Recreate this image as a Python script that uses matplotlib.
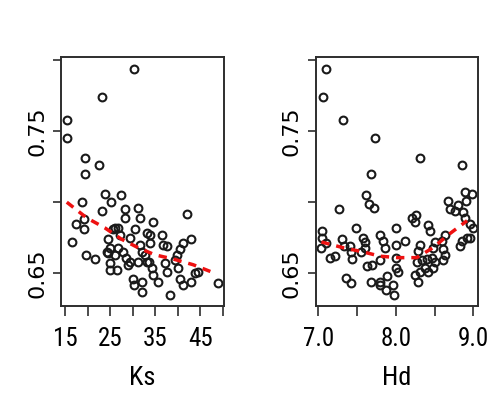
"""
Two-panel scatter: response vs Ks and vs Hd, each with a dashed red
smooth trend line. Saved as out.png (494x412 px).
"""

import matplotlib
matplotlib.use("Agg")
import matplotlib.pyplot as plt
from matplotlib import font_manager

# === DATA ================================================================== #

ks_x = [30.3, 23.2, 15.5, 15.4, 19.4, 22.5, 19.4, 18.7, 23.8, 25.3,
        27.4, 23.3, 17.4, 19.3, 19.3, 16.5, 19.6, 21.7, 28.3, 28.3,
        31.2, 31.6, 26.1, 27.2, 24.6, 29.4, 30.5, 25.0, 24.6, 26.8,
        26.1, 27.9, 28.6, 29.4, 25.0, 25.0, 26.6, 31.2, 30.1, 30.3,
        32.0, 32.0, 31.6, 34.5, 42.1, 33.8, 33.8, 36.4, 36.7, 37.5,
        43.0, 41.2, 40.4, 39.7, 39.3, 32.0, 32.7, 33.1, 34.2, 37.1,
        37.5, 34.5, 35.6, 40.1, 40.4, 41.2, 43.0, 43.8, 44.5, 38.2,
        48.9, 24.2, 25.7, 29.0, 33.1, 33.5, 26.8]
ks_y = [0.794, 0.774, 0.758, 0.745, 0.731, 0.726, 0.720, 0.700, 0.706, 0.700,
        0.705, 0.694, 0.685, 0.688, 0.681, 0.672, 0.663, 0.660, 0.695, 0.689,
        0.696, 0.689, 0.682, 0.677, 0.674, 0.675, 0.681, 0.668, 0.664, 0.668,
        0.663, 0.665, 0.661, 0.658, 0.657, 0.652, 0.652, 0.658, 0.646, 0.642,
        0.644, 0.637, 0.670, 0.686, 0.692, 0.677, 0.671, 0.677, 0.670, 0.669,
        0.674, 0.671, 0.667, 0.663, 0.659, 0.665, 0.663, 0.658, 0.654, 0.657,
        0.651, 0.649, 0.644, 0.654, 0.646, 0.642, 0.644, 0.650, 0.651, 0.635,
        0.643, 0.665, 0.681, 0.656, 0.678, 0.658, 0.682]

ks_fit_x = [15.4, 19.8, 23.8, 27.5, 31.2, 34.9, 39.0, 43.4, 48.2]
ks_fit_y = [0.700, 0.689, 0.682, 0.674, 0.668, 0.663, 0.660, 0.656, 0.650]

hd_x = [7.095, 7.061, 7.319, 7.732, 8.308, 8.850, 7.684, 7.619, 7.654, 7.715,
        7.267, 7.490, 7.052, 7.052, 7.039, 7.103, 7.310, 7.330, 7.405, 7.426,
        7.439, 7.155, 7.210, 7.577, 7.598, 7.598, 7.555, 7.792, 7.835, 7.857,
        7.792, 7.628, 7.697, 7.361, 7.426, 7.684, 7.792, 7.792, 7.886, 7.964,
        7.973, 7.877, 7.999, 7.999, 7.999, 7.999, 8.893, 8.987, 8.902, 8.677,
        8.699, 8.764, 8.806, 8.871, 8.893, 8.957, 9.000, 8.915, 8.850, 8.828,
        8.957, 8.205, 8.257, 8.248, 8.119, 8.419, 8.441, 8.635, 8.592, 8.312,
        8.290, 8.506, 8.484, 8.613, 8.635, 8.613, 8.270, 8.334, 8.399, 8.463,
        8.506, 8.377, 8.312, 8.248, 8.419, 8.484, 8.283, 8.032]
hd_y = [0.794, 0.774, 0.758, 0.745, 0.731, 0.726, 0.720, 0.705, 0.699, 0.696,
        0.695, 0.682, 0.680, 0.675, 0.668, 0.671, 0.674, 0.669, 0.669, 0.665,
        0.660, 0.661, 0.662, 0.675, 0.672, 0.668, 0.665, 0.677, 0.673, 0.668,
        0.659, 0.655, 0.656, 0.647, 0.643, 0.644, 0.644, 0.642, 0.648, 0.642,
        0.635, 0.638, 0.682, 0.670, 0.661, 0.654, 0.707, 0.706, 0.701, 0.701,
        0.695, 0.694, 0.698, 0.693, 0.689, 0.685, 0.682, 0.675, 0.673, 0.669,
        0.675, 0.689, 0.691, 0.686, 0.673, 0.684, 0.680, 0.677, 0.673, 0.670,
        0.666, 0.672, 0.668, 0.667, 0.663, 0.659, 0.658, 0.659, 0.660, 0.661,
        0.658, 0.654, 0.651, 0.649, 0.651, 0.654, 0.644, 0.651]

hd_fit_x = [7.04, 7.32, 7.58, 7.80, 8.03, 8.27, 8.48, 8.70, 8.92]
hd_fit_y = [0.672, 0.668, 0.665, 0.662, 0.661, 0.661, 0.668, 0.678, 0.687]

y_ticks = [0.65, 0.70, 0.75, 0.80]
y_tick_labels = ["0.65", "", "0.75", ""]

ks_ticks = [15, 20, 25, 30, 35, 40, 45, 50]
ks_tick_labels = ["15", "", "25", "", "35", "", "45", ""]

hd_ticks = [7.0, 7.5, 8.0, 8.5, 9.0]
hd_tick_labels = ["7.0", "", "8.0", "", "9.0"]


# === HELPERS =============================================================== #

def pick_font(candidates):
    """First installed family from the list, else DejaVu Sans."""
    for name in candidates:
        try:
            font_manager.findfont(font_manager.FontProperties(family=name),
                                  fallback_to_default=False)
            return name
        except ValueError:
            continue
    return "DejaVu Sans"


NARROW = pick_font(["Liberation Sans Narrow", "Roboto Condensed", "Liberation Sans"])
WIDE = pick_font(["DejaVu Sans"])
EDGE = "#2e2e2e"


def draw_panel(ax, x, y, fit_x, fit_y, xlim, ticks, tick_labels, xlabel):
    ax.plot(x, y, linestyle="none", marker="o", markersize=5.6,
            markerfacecolor="none", markeredgecolor="#1a1a1a",
            markeredgewidth=1.5)
    ax.plot(fit_x, fit_y, color="#ee1111", linewidth=2.5,
            linestyle=(0, (2.4, 2.0)))

    ax.set_xlim(*xlim)
    ax.set_ylim(0.627, 0.802)

    ax.set_xticks(ticks)
    ax.set_xticklabels(tick_labels, fontfamily=NARROW, fontsize=18)
    ax.set_yticks(y_ticks)
    ax.set_yticklabels(y_tick_labels, fontfamily=WIDE, fontsize=16,
                       rotation=90, va="center")

    ax.tick_params(axis="x", length=7, width=1.2, color=EDGE, pad=8)
    ax.tick_params(axis="y", length=6, width=1.2, color=EDGE, pad=4)
    ax.set_xlabel(xlabel, fontfamily=NARROW, fontsize=19, labelpad=11)

    for side in ax.spines.values():
        side.set_color(EDGE)
        side.set_linewidth(1.4)


# === MAIN ================================================================== #

def main():
    fig = plt.figure(figsize=(4.94, 4.12), dpi=100)
    ax_ks = fig.add_axes([0.1235, 0.2573, 0.330, 0.604])
    ax_hd = fig.add_axes([0.639, 0.2573, 0.3285, 0.604])

    draw_panel(ax_ks, ks_x, ks_y, ks_fit_x, ks_fit_y, (14.12, 50.22),
               ks_ticks, ks_tick_labels, "Ks")
    draw_panel(ax_hd, hd_x, hd_y, hd_fit_x, hd_fit_y, (6.966, 9.06),
               hd_ticks, hd_tick_labels, "Hd")

    fig.savefig("out.png", dpi=100)


if __name__ == "__main__":
    main()
